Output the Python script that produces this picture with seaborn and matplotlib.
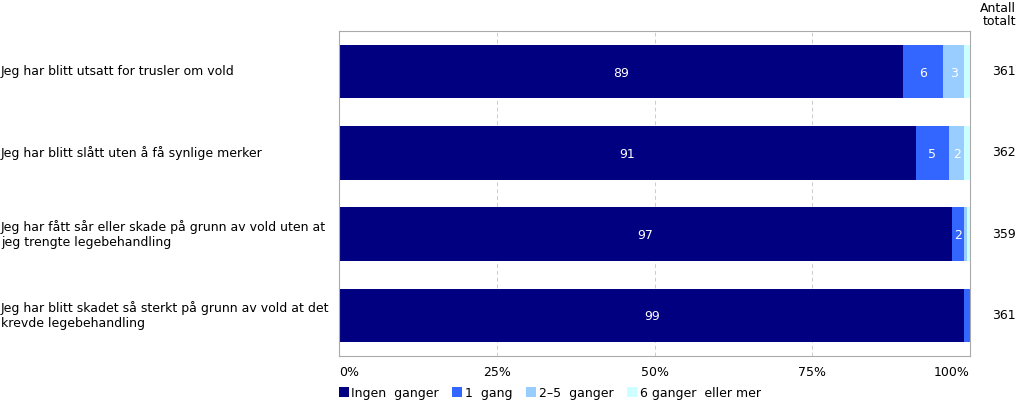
import numpy as np
import pandas as pd
import seaborn as sns
import matplotlib.pyplot as plt
from matplotlib.patches import Patch

# Data
statements = [
    "Jeg har blitt utsatt for trusler om vold",
    "Jeg har blitt slått uten å få synlige merker",
    "Jeg har fått sår eller skade på grunn av vold uten at\njeg trengte legebehandling",
    "Jeg har blitt skadet så sterkt på grunn av vold at det\nkrevde legebehandling",
]
ingen = [89.4, 91.4, 97.1, 99.1]
en_gang = [6.3, 5.3, 2.0, 0.9]
to_fem = [3.4, 2.4, 0.5, 0.0]
seks_pluss = [0.9, 0.9, 0.4, 0.0]
totals = [361, 362, 359, 361]
series_names = ["Ingen  ganger", "1  gang", "2–5  ganger", "6 ganger  eller mer"]
colors = ["#000080", "#3366ff", "#99ccff", "#ccffff"]

df = pd.DataFrame({"statement": statements, series_names[0]: ingen,
                   series_names[1]: en_gang, series_names[2]: to_fem,
                   series_names[3]: seks_pluss})
cum = df[series_names].cumsum(axis=1)

sns.set_style("white")
plt.rcParams["font.family"] = ["DejaVu Sans"]
plt.rcParams["text.color"] = "black"
plt.rcParams["xtick.color"] = "black"

fig = plt.figure(figsize=(10.24, 4.03), dpi=100)
ax = fig.add_axes([339 / 1024, 47 / 403, 631 / 1024, 325 / 403])

# stacked bars: draw cumulative totals from back to front
for name, col in reversed(list(zip(series_names, colors))):
    sns.barplot(x=cum[name], y=df["statement"], color=col, orient="h",
                width=0.66, saturation=1, linewidth=0, ax=ax, zorder=2)

# value labels inside segments
for i in range(len(statements)):
    left = 0
    for name in series_names:
        v = df.loc[i, name]
        if round(v) >= 2:
            ax.text(left + v / 2, i + 0.02, f"{round(v):.0f}", color="white",
                    ha="center", va="center", fontsize=9, zorder=3)
        left += v

ax.set_xlim(0, 100)
ax.set_ylim(3.5, -0.5)
ax.set_xlabel("")
ax.set_ylabel("")
ax.set_xticks([0, 25, 50, 75, 100])
ax.set_xticklabels(["0%", "25%", "50%", "75%", "100%"], fontsize=9)
labels = ax.get_xticklabels()
labels[0].set_ha("left")
labels[-1].set_ha("right")
ax.tick_params(axis="x", length=0, pad=7)
ax.tick_params(axis="y", length=0)
ax.set_yticks(range(len(statements)))
ax.set_yticklabels([])
for s in ax.spines.values():
    s.set_color("#aaaaaa")
    s.set_linewidth(0.8)
for xv in [25, 50, 75]:
    ax.axvline(xv, color="#cccccc", linestyle=(0, (4, 3)), linewidth=0.7, zorder=1)

# category labels at the left edge of the figure
for i, s in enumerate(statements):
    ax.annotate(s, xy=(1 / 1024, i), xycoords=("figure fraction", "data"),
                ha="left", va="center", fontsize=9, annotation_clip=False)

# totals at the right
for i, t in enumerate(totals):
    ax.annotate(str(t), xy=(1016 / 1024, i), xycoords=("figure fraction", "data"),
                ha="right", va="center", fontsize=9, annotation_clip=False)

fig.text(1016 / 1024, 1 - 2 / 403, "Antall\ntotalt", ha="right", va="top",
         fontsize=9, linespacing=1.0)

handles = [Patch(facecolor=c, edgecolor="none") for c in colors]
fig.legend(handles, series_names, loc="lower left",
           bbox_to_anchor=(331 / 1024, -0.01), ncol=4, frameon=False,
           fontsize=9, handlelength=0.8, handleheight=0.8,
           handletextpad=0.2, columnspacing=1.1, borderaxespad=0.2)

fig.savefig("out.png", dpi=100)
